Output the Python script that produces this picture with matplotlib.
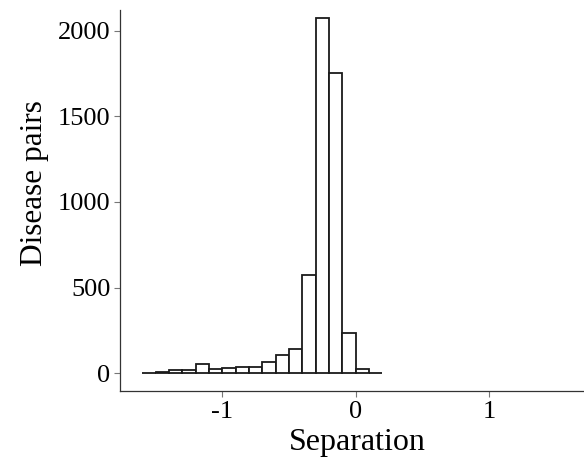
import matplotlib
matplotlib.use("Agg")
import matplotlib.pyplot as plt
import numpy as np

# Histogram data (bin edges, width 0.1)
bin_left = [-1.6, -1.5, -1.4, -1.3, -1.2, -1.1, -1.0, -0.9, -0.8, -0.7,
            -0.6, -0.5, -0.4, -0.3, -0.2, -0.1, 0.0, 0.1]
counts = [3, 8, 20, 20, 55, 22, 28, 35, 35, 66,
          105, 142, 573, 2076, 1754, 236, 22, 2]
bin_width = 0.1

x_ticks = [-1, 0, 1]
x_ticklabels = ["-1", "0", "1"]
y_ticks = [0, 500, 1000, 1500, 2000]
y_ticklabels = ["0", "500", "1000", "1500", "2000"]

plt.rcParams['font.family'] = ['Liberation Serif', 'DejaVu Serif']

fig = plt.figure(figsize=(5.84, 4.63), dpi=100)
ax = fig.add_axes([0.2055, 0.1555, 0.7945, 0.8225])

ax.bar(bin_left, counts, width=bin_width, align='edge',
       facecolor='white', edgecolor='#1a1a1a', linewidth=1.3)

ax.set_xlim(-1.767, 1.71)
ax.set_ylim(-105, 2121)
ax.set_xticks(x_ticks)
ax.set_xticklabels(x_ticklabels)
ax.set_yticks(y_ticks)
ax.set_yticklabels(y_ticklabels)

for side in ['top', 'right']:
    ax.spines[side].set_visible(False)
for side in ['left', 'bottom']:
    ax.spines[side].set_color('#333333')
    ax.spines[side].set_linewidth(0.9)

ax.tick_params(axis='both', direction='out', length=4, width=0.8,
               color='#777777', labelsize=19, labelcolor='black', pad=3)

ax.set_xlabel("Separation", fontsize=23, labelpad=4)
ax.set_ylabel("Disease pairs", fontsize=22.5)
ax.xaxis.label.set_x(0.512)
ax.yaxis.set_label_coords(-0.152, 0.545)

fig.savefig("out.png", dpi=100)
